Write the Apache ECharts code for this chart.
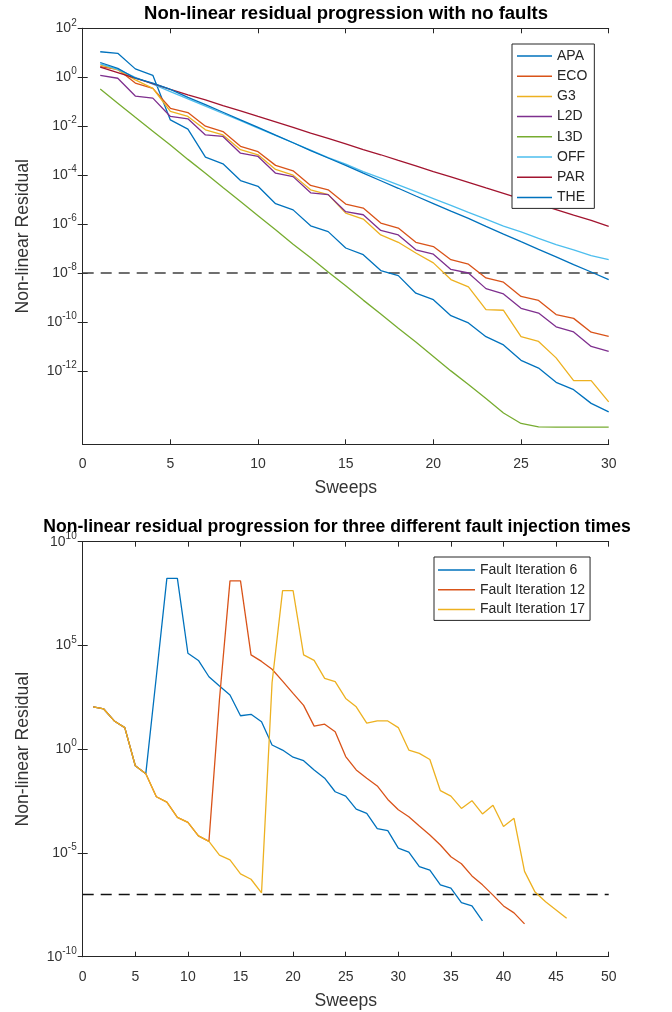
<!DOCTYPE html>
<html lang="en">
<head>
	<meta charset="UTF-8">
	<title>Non-linear residual progression</title>
	<style type="text/css">
	html, body {
		margin: 0;
		padding: 0;
		background: #fff;
	}
	#chart {
		width: 672px;
		height: 1012px;
	}
	</style>
</head>
<body>
	<div id="chart"></div>

	<script type="text/javascript" src="https://cdn.jsdelivr.net/npm/echarts@6/dist/echarts.min.js"></script>
	<script type="text/javascript">

		// top chart: residual per sweep (sweeps 1..30)
		var seriesNamesTop = ['APA', 'ECO', 'G3', 'L2D', 'L3D', 'OFF', 'PAR', 'THE'];
		var apa = [1.1e1, 9.5e0, 2.2e0, 1.2e0, 1.8e-2, 7.6e-3, 5.4e-4, 2.9e-4, 6.0e-5, 3.5e-5,
			6.8e-6, 3.8e-6, 8.5e-7, 4.9e-7, 1.05e-7, 5.6e-8, 1.26e-8, 7.8e-9, 1.5e-9, 8.1e-10,
			1.8e-10, 9.1e-11, 2.5e-11, 1.15e-11, 2.7e-12, 1.3e-12, 3.4e-13, 1.7e-13, 4.7e-14, 2.1e-14];
		var eco = [2.7e0, 2.1e0, 5.8e-1, 3.5e-1, 5.4e-2, 3.6e-2, 1.0e-2, 6.0e-3, 1.5e-3, 9.1e-4,
			2.5e-4, 1.5e-4, 3.8e-5, 2.5e-5, 6.6e-6, 4.5e-6, 1.1e-6, 6.9e-7, 1.8e-7, 1.2e-7,
			3.5e-8, 2.3e-8, 6.3e-9, 4.2e-9, 1.1e-9, 7.6e-10, 2.0e-10, 1.4e-10, 3.8e-11, 2.6e-11];
		var g3 = [3.2e0, 2.0e0, 7.8e-1, 3.5e-1, 4.0e-2, 2.5e-2, 7.1e-3, 4.4e-3, 1.1e-3, 6.8e-4,
			1.7e-4, 1.0e-4, 2.5e-5, 1.6e-5, 2.8e-6, 1.6e-6, 3.6e-7, 1.8e-7, 6.6e-8, 2.6e-8,
			5.4e-9, 2.7e-9, 3.2e-10, 3.0e-10, 2.5e-11, 1.6e-11, 3.4e-12, 4.0e-13, 4.0e-13, 5.4e-14];
		var l2d = [1.2e0, 9.1e-1, 1.7e-1, 1.4e-1, 2.5e-2, 2.0e-2, 4.4e-3, 3.8e-3, 7.9e-4, 5.8e-4,
			1.2e-4, 8.7e-5, 1.9e-5, 1.6e-5, 3.2e-6, 2.4e-6, 5.5e-7, 3.6e-7, 8.9e-8, 5.9e-8,
			1.4e-8, 1.0e-8, 2.3e-9, 1.4e-9, 3.6e-10, 2.3e-10, 6.3e-11, 3.9e-11, 1.0e-11, 6.3e-12];
		var l3d = [3.3e-1, 8.7e-2, 2.3e-2, 6.2e-3, 1.7e-3, 4.4e-4, 1.2e-4, 3.1e-5, 8.3e-6, 2.2e-6,
			5.9e-7, 1.5e-7, 4.2e-8, 1.1e-8, 3.0e-9, 7.8e-10, 2.1e-10, 5.5e-11, 1.5e-11, 3.9e-12,
			1.0e-12, 2.8e-13, 7.4e-14, 1.9e-14, 7.1e-15, 5.2e-15, 5.0e-15, 5.0e-15, 5.0e-15, 5.0e-15];
		var off = [3.5e0, 2.1e0, 1.0e0, 5.2e-1, 2.6e-1, 1.3e-1, 6.6e-2, 3.3e-2, 1.7e-2, 8.3e-3,
			4.2e-3, 2.1e-3, 1.05e-3, 5.2e-4, 2.8e-4, 1.4e-4, 7.6e-5, 4.0e-5, 2.1e-5, 1.1e-5,
			5.8e-6, 3.0e-6, 1.6e-6, 8.3e-7, 4.8e-7, 2.6e-7, 1.45e-7, 8.9e-8, 5.1e-8, 3.5e-8];
		var par = [2.6e0, 1.55e0, 9.1e-1, 5.5e-1, 3.2e-1, 1.9e-1, 1.2e-1, 6.9e-2, 4.2e-2, 2.5e-2,
			1.5e-2, 8.9e-3, 5.2e-3, 3.2e-3, 1.9e-3, 1.1e-3, 6.8e-4, 4.0e-4, 2.4e-4, 1.4e-4,
			8.5e-5, 5.1e-5, 3.0e-5, 1.8e-5, 1.07e-5, 6.5e-6, 3.9e-6, 2.3e-6, 1.4e-6, 8.1e-7];
		var the = [4.0e0, 2.3e0, 9.1e-1, 5.8e-1, 3.2e-1, 1.5e-1, 7.6e-2, 3.7e-2, 1.8e-2, 8.9e-3,
			4.3e-3, 2.1e-3, 1.0e-3, 5.0e-4, 2.5e-4, 1.2e-4, 5.9e-5, 2.9e-5, 1.4e-5, 6.9e-6,
			3.4e-6, 1.7e-6, 8.1e-7, 3.9e-7, 1.9e-7, 9.3e-8, 4.6e-8, 2.2e-8, 1.1e-8, 5.4e-9];
		var thresholdTop = 1e-8;

		// bottom chart: residual per sweep with a fault injected
		var seriesNamesBottom = ['Fault Iteration 6', 'Fault Iteration 12', 'Fault Iteration 17'];
		var fault6 = [1.1e2, 8.7e1, 2.3e1, 1.1e1, 1.6e-1, 6.6e-2, 3.2e3, 1.7e8, 1.7e8, 4.2e4,
			1.9e4, 3.1e3, 1.1e3, 4.1e2, 4.1e1, 4.8e1, 2.1e1, 1.6e0, 9.1e-1, 4.1e-1,
			2.8e-1, 1.0e-1, 4.0e-2, 8.9e-3, 5.5e-3, 1.3e-3, 8.1e-4, 1.5e-4, 1.2e-4, 1.7e-5,
			1.1e-5, 2.2e-6, 1.5e-6, 2.9e-7, 2.0e-7, 4.0e-8, 2.8e-8, 5.4e-9];
		var fault12 = [1.1e2, 8.7e1, 2.3e1, 1.1e1, 1.6e-1, 6.6e-2, 5.1e-3, 2.8e-3, 5.2e-4, 3.0e-4,
			6.6e-5, 3.6e-5, 2.5e2, 1.3e8, 1.3e8, 3.5e4, 1.7e4, 7.1e3, 1.9e3, 4.9e2,
			1.3e2, 1.3e1, 1.6e1, 6.9e0, 4.4e-1, 1.0e-1, 4.0e-2, 1.7e-2, 3.8e-3, 1.2e-3,
			5.6e-4, 2.0e-4, 7.4e-5, 2.4e-5, 6.6e-6, 3.0e-6, 7.8e-7, 2.9e-7, 9.3e-8, 2.8e-8,
			1.3e-8, 3.8e-9];
		var fault17 = [1.1e2, 8.7e1, 2.3e1, 1.1e1, 1.6e-1, 6.6e-2, 5.1e-3, 2.8e-3, 5.2e-4, 3.0e-4,
			6.6e-5, 3.6e-5, 7.9e-6, 4.6e-6, 9.8e-7, 5.4e-7, 1.2e-7, 1.6e3, 4.4e7, 4.4e7,
			3.5e4, 1.9e4, 2.6e3, 1.8e3, 2.8e2, 1.1e2, 1.8e1, 2.3e1, 2.3e1, 1.1e1,
			9.1e-1, 6.3e-1, 3.2e-1, 1.0e-2, 5.5e-3, 1.4e-3, 3.3e-3, 7.6e-4, 2.0e-3, 1.9e-4,
			4.7e-4, 1.3e-6, 1.3e-7, 4.5e-8, 1.8e-8, 7.1e-9];
		var thresholdBottom = 1e-7;

		// tick labels
		var topYTicks = [1e2, 1e0, 1e-2, 1e-4, 1e-6, 1e-8, 1e-10, 1e-12];
		var bottomYTicks = [1e10, 1e5, 1e0, 1e-5, 1e-10];

		var colorsTop = ['#0072BD', '#D95319', '#EDB120', '#7E2F8E', '#77AC30', '#4DBEEE', '#A2142F', '#0072BD'];
		var colorsBottom = ['#0072BD', '#D95319', '#EDB120'];

		var axisColor = '#262626';
		var textColor = '#333';
		var fontFamily = '"Liberation Sans", Arial, sans-serif';
		var tickLen = 5;

		var chart = echarts.init(document.getElementById('chart'), null, {renderer: 'canvas'});

		// 10^n style label
		function powLabel (v) {
			var e = Math.round(Math.log10(v));
			return '{b|10}{s|' + e + '}';
		}

		function toPoints (arr) {
			return arr.map(function (v, i) {
				return [i + 1, v];
			});
		}

		function makeLine (name, arr, color, xi, yi) {
			return {
				name: name,
				type: 'line',
				xAxisIndex: xi,
				yAxisIndex: yi,
				data: toPoints(arr),
				showSymbol: false,
				symbol: 'none',
				itemStyle: {color: color},
				lineStyle: {color: color, width: 1.3},
				z: 3
			};
		}

		function makeDashed (value, xMax, color, xi, yi) {
			return {
				type: 'line',
				xAxisIndex: xi,
				yAxisIndex: yi,
				data: [[0, value], [xMax, value]],
				showSymbol: false,
				symbol: 'none',
				lineStyle: {color: color, width: 1.5, type: [11, 7]},
				silent: true,
				z: 2
			};
		}

		function xAxisMain (gi, max) {
			return {
				gridIndex: gi,
				type: 'value',
				min: 0,
				max: max,
				interval: 5,
				position: 'bottom',
				name: 'Sweeps',
				nameLocation: 'middle',
				nameGap: 35,
				nameTextStyle: {fontSize: 17.6, color: textColor, fontFamily: fontFamily},
				axisLine: {show: true, onZero: false, lineStyle: {color: axisColor, width: 1}},
				axisTick: {show: true, inside: true, length: tickLen, lineStyle: {color: axisColor}},
				axisLabel: {fontSize: 14, color: textColor, margin: 13, fontFamily: fontFamily},
				splitLine: {show: false}
			};
		}

		function xAxisBox (gi, max) {
			return {
				gridIndex: gi,
				type: 'value',
				min: 0,
				max: max,
				interval: 5,
				position: 'top',
				axisLine: {show: true, onZero: false, lineStyle: {color: axisColor, width: 1}},
				axisTick: {show: true, inside: true, length: tickLen, lineStyle: {color: axisColor}},
				axisLabel: {show: false},
				splitLine: {show: false}
			};
		}

		function yAxisMain (gi, min, max, ticks) {
			return {
				gridIndex: gi,
				type: 'log',
				logBase: 10,
				min: min,
				max: max,
				position: 'left',
				name: 'Non-linear Residual',
				nameLocation: 'middle',
				nameGap: 51,
				nameTextStyle: {fontSize: 17.6, color: textColor, fontFamily: fontFamily},
				axisLine: {show: true, lineStyle: {color: axisColor, width: 1}},
				axisTick: {show: true, inside: true, length: tickLen, customValues: ticks, lineStyle: {color: axisColor}},
				axisLabel: {
					customValues: ticks,
					formatter: powLabel,
					margin: 6,
					color: textColor,
					fontFamily: fontFamily,
					rich: {
						b: {fontSize: 14, color: textColor, fontFamily: fontFamily},
						s: {fontSize: 10, color: textColor, fontFamily: fontFamily, padding: [0, 0, 11, 0]}
					}
				},
				splitLine: {show: false}
			};
		}

		function yAxisBox (gi, min, max, ticks) {
			return {
				gridIndex: gi,
				type: 'log',
				logBase: 10,
				min: min,
				max: max,
				position: 'right',
				axisLine: {show: true, lineStyle: {color: axisColor, width: 1}},
				axisTick: {show: true, inside: true, length: tickLen, customValues: ticks, lineStyle: {color: axisColor}},
				axisLabel: {show: false},
				splitLine: {show: false}
			};
		}

		var series = [];
		var topData = [apa, eco, g3, l2d, l3d, off, par, the];
		topData.forEach(function (arr, i) {
			series.push(makeLine(seriesNamesTop[i], arr, colorsTop[i], 0, 0));
		});
		series.push(makeDashed(thresholdTop, 30, '#404040', 0, 0));

		var bottomData = [fault6, fault12, fault17];
		bottomData.forEach(function (arr, i) {
			series.push(makeLine(seriesNamesBottom[i], arr, colorsBottom[i], 2, 2));
		});
		series.push(makeDashed(thresholdBottom, 50, '#111', 2, 2));

		var legendBase = {
			orient: 'vertical',
			icon: 'rect',
			itemHeight: 1.5,
			backgroundColor: '#fff',
			borderColor: axisColor,
			borderWidth: 1,
			borderRadius: 0,
			textStyle: {fontSize: 14, lineHeight: 14, color: '#262626', fontFamily: fontFamily},
			selectedMode: false
		};

		var option = {
			animation: false,
			backgroundColor: '#fff',
			title: [{
				text: 'Non-linear residual progression with no faults',
				left: 346,
				textAlign: 'center',
				top: 4,
				padding: 0,
				textStyle: {fontSize: 18.5, fontWeight: 'bold', color: '#000', fontFamily: fontFamily}
			}, {
				text: 'Non-linear residual progression for three different fault injection times',
				left: 337,
				textAlign: 'center',
				top: 518,
				padding: 0,
				textStyle: {fontSize: 17.6, fontWeight: 'bold', color: '#000', fontFamily: fontFamily}
			}],
			legend: [
				echarts.util.merge({
					data: seriesNamesTop,
					left: 512,
					top: 44,
					itemWidth: 35,
					itemGap: 6.2,
					padding: [5, 7, 4, 5]
				}, legendBase),
				echarts.util.merge({
					data: seriesNamesBottom,
					left: 434,
					top: 557,
					itemWidth: 37,
					itemGap: 5.7,
					padding: [6, 5, 4, 4]
				}, legendBase)
			],
			grid: [
				{left: 82.7, top: 28.3, width: 526, height: 416},
				{left: 82.7, top: 541.7, width: 526, height: 415},
				{left: 82.7, top: 541.7, width: 526, height: 415}
			],
			xAxis: [
				xAxisMain(0, 30),
				xAxisBox(0, 30),
				xAxisMain(1, 50),
				xAxisBox(1, 50)
			],
			yAxis: [
				yAxisMain(0, 1e-15, 1e2, topYTicks),
				yAxisBox(0, 1e-15, 1e2, topYTicks),
				yAxisMain(1, 1e-10, 1e10, bottomYTicks),
				yAxisBox(1, 1e-10, 1e10, bottomYTicks)
			],
			series: series
		};

		chart.setOption(option);

	</script>
</body>
</html>
